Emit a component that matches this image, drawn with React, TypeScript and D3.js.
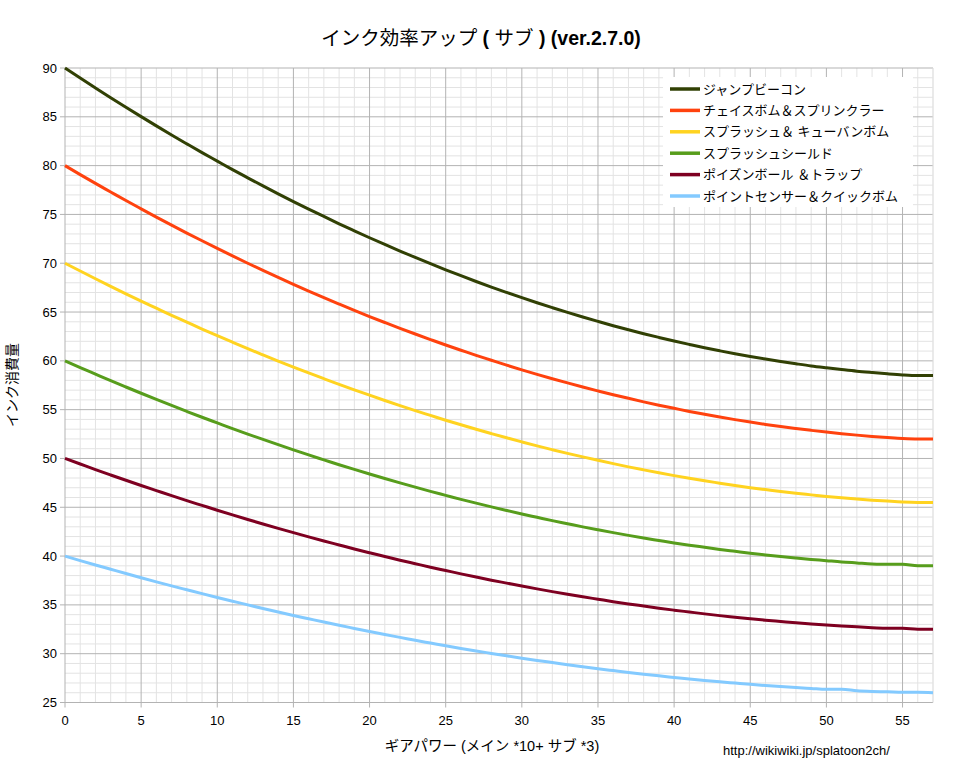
import React from "react";
import * as d3 from "d3";

const gearPower = d3.range(0, 58);

const seriesNames = [
  "ジャンプビーコン",
  "チェイスボム＆スプリンクラー",
  "スプラッシュ＆ キューバンボム",
  "スプラッシュシールド",
  "ポイズンボール ＆トラップ",
  "ポイントセンサー＆クイックボム",
];

const seriesColors = ["#314004", "#ff420e", "#ffd320", "#579d1c", "#7e0021", "#83caff"];

const jumpBeacon = [
  90, 88.97, 87.96, 86.96, 85.98, 85.02, 84.07, 83.14, 82.23, 81.33, 80.46, 79.59, 78.75, 77.92, 77.11,
  76.32, 75.55, 74.79, 74.04, 73.32, 72.61, 71.92, 71.25, 70.59, 69.95, 69.33, 68.72, 68.13, 67.56, 67.01,
  66.47, 65.95, 65.45, 64.96, 64.49, 64.04, 63.6, 63.18, 62.78, 62.4, 62.03, 61.68, 61.34, 61.03, 60.73,
  60.45, 60.18, 59.93, 59.7, 59.48, 59.29, 59.11, 58.94, 58.8, 58.67, 58.56, 58.5, 58.5,
];
const curlingSprinkler = [
  80, 79.08, 78.18, 77.3, 76.42, 75.57, 74.73, 73.9, 73.09, 72.3, 71.52, 70.75, 70.0, 69.27, 68.55,
  67.84, 67.15, 66.48, 65.82, 65.17, 64.54, 63.93, 63.33, 62.75, 62.18, 61.62, 61.09, 60.56, 60.06, 59.56,
  59.08, 58.62, 58.17, 57.74, 57.32, 56.92, 56.53, 56.16, 55.8, 55.46, 55.14, 54.82, 54.53, 54.25, 53.98,
  53.73, 53.49, 53.27, 53.07, 52.88, 52.7, 52.54, 52.39, 52.26, 52.15, 52.05, 52, 52,
];
const splatSuction = [
  70, 69.2, 68.41, 67.63, 66.87, 66.12, 65.39, 64.66, 63.96, 63.26, 62.58, 61.91, 61.25, 60.61, 59.98,
  59.36, 58.76, 58.17, 57.59, 57.03, 56.48, 55.94, 55.41, 54.9, 54.41, 53.92, 53.45, 52.99, 52.55, 52.12,
  51.7, 51.29, 50.9, 50.52, 50.16, 49.81, 49.47, 49.14, 48.83, 48.53, 48.24, 47.97, 47.71, 47.47, 47.23,
  47.01, 46.81, 46.61, 46.43, 46.27, 46.11, 45.97, 45.84, 45.73, 45.63, 45.54, 45.5, 45.5,
];
const splashWall = [
  60, 59.31, 58.64, 57.97, 57.32, 56.68, 56.05, 55.43, 54.82, 54.22, 53.64, 53.06, 52.5, 51.95, 51.41,
  50.88, 50.36, 49.86, 49.36, 48.88, 48.41, 47.95, 47.5, 47.06, 46.63, 46.22, 45.81, 45.42, 45.04, 44.67,
  44.31, 43.97, 43.63, 43.31, 42.99, 42.69, 42.4, 42.12, 41.85, 41.6, 41.35, 41.12, 40.9, 40.68, 40.49,
  40.3, 40.12, 39.95, 39.8, 39.66, 39.53, 39.4, 39.3, 39.2, 39.15, 39.15, 39, 39,
];
const toxicMistMine = [
  50, 49.43, 48.86, 48.31, 47.77, 47.23, 46.71, 46.19, 45.68, 45.19, 44.7, 44.22, 43.75, 43.29, 42.84,
  42.4, 41.97, 41.55, 41.14, 40.73, 40.34, 39.96, 39.58, 39.22, 38.86, 38.52, 38.18, 37.85, 37.53, 37.23,
  36.93, 36.64, 36.36, 36.09, 35.83, 35.58, 35.33, 35.1, 34.88, 34.66, 34.46, 34.27, 34.08, 33.9, 33.74,
  33.58, 33.43, 33.3, 33.17, 33.05, 32.94, 32.84, 32.75, 32.67, 32.6, 32.6, 32.5, 32.5,
];
const pointSensorAutobomb = [
  40, 39.54, 39.09, 38.65, 38.21, 37.78, 37.36, 36.95, 36.55, 36.15, 35.76, 35.38, 35.0, 34.63, 34.27,
  33.92, 33.58, 33.24, 32.91, 32.59, 32.27, 31.96, 31.67, 31.37, 31.09, 30.81, 30.54, 30.28, 30.03, 29.78,
  29.54, 29.31, 29.09, 28.87, 28.66, 28.46, 28.27, 28.08, 27.9, 27.73, 27.57, 27.41, 27.26, 27.12, 26.99,
  26.86, 26.74, 26.63, 26.53, 26.44, 26.35, 26.35, 26.2, 26.13, 26.1, 26.05, 26.05, 26,
];

const seriesValues = [jumpBeacon, curlingSprinkler, splatSuction, splashWall, toxicMistMine, pointSensorAutobomb];

const xTicks = [0, 5, 10, 15, 20, 25, 30, 35, 40, 45, 50, 55];
const yTicks = [25, 30, 35, 40, 45, 50, 55, 60, 65, 70, 75, 80, 85, 90];

// title pieces: [text, bold]
const titleParts: [string, boolean][] = [
  ["インク効率アップ", false],
  [" ( ", true],
  ["サブ", false],
  [" ) (ver.2.7.0)", true],
];
const xTitle = "ギアパワー (メイン *10+ サブ *3)";
const yTitle = "インク消費量";
const sourceText = "http://wikiwiki.jp/splatoon2ch/";

const FONT = "'Liberation Sans', Arial, 'Noto Sans CJK JP', sans-serif";

export default function App() {
  const W = 961;
  const H = 768;
  const left = 65;
  const right = 933;
  const top = 68;
  const bottom = 702.5;

  const x = d3.scaleLinear().domain([0, 57]).range([left, right]);
  const y = d3.scaleLinear().domain([25, 90]).range([bottom, top]);

  const line = d3
    .line<number>()
    .x((_, i) => x(gearPower[i]))
    .y((d) => y(d))
    .curve(d3.curveMonotoneX);

  const minorX = d3.range(0, 58).filter((v) => v % 5 !== 0);
  const minorY = d3.range(25, 91).filter((v) => v % 5 !== 0);

  const legendX = 663;
  const legendY = 77;
  const rowH = 21.4;

  return (
    <svg
      width={W}
      height={H}
      style={{ position: "absolute", left: 0, top: 0, background: "#fff" }}
      fontFamily={FONT}
    >
      <rect x={0} y={0} width={W} height={H} fill="#fff" />
      {minorX.map((v) => (
        <line key={"mx" + v} x1={x(v)} x2={x(v)} y1={top} y2={bottom} stroke="#e3e3e3" strokeWidth={1} />
      ))}
      {minorY.map((v) => (
        <line key={"my" + v} x1={left} x2={right} y1={y(v)} y2={y(v)} stroke="#e3e3e3" strokeWidth={1} />
      ))}
      {xTicks.map((v) => (
        <line key={"gx" + v} x1={x(v)} x2={x(v)} y1={top} y2={bottom + 5} stroke="#b3b3b3" strokeWidth={1} />
      ))}
      {yTicks.map((v) => (
        <line key={"gy" + v} x1={left - 5} x2={right} y1={y(v)} y2={y(v)} stroke="#b3b3b3" strokeWidth={1} />
      ))}
      <line x1={right} x2={right} y1={top} y2={bottom} stroke="#e3e3e3" />

      {yTicks.map((v) => (
        <text key={"yl" + v} x={57} y={y(v)} dy="0.35em" textAnchor="end" fontSize={13} fill="#000">
          {v}
        </text>
      ))}
      {xTicks.map((v) => (
        <text key={"xl" + v} x={x(v)} y={bottom + 22} textAnchor="middle" fontSize={13} fill="#000">
          {v}
        </text>
      ))}

      {seriesValues.map((vals, i) => (
        <path
          key={"s" + i}
          d={line(vals) || ""}
          fill="none"
          stroke={seriesColors[i]}
          strokeWidth={3}
          strokeLinejoin="round"
        />
      ))}

      <rect x={legendX} y={legendY} width={250} height={130} fill="#fff" />
      {seriesNames.map((name, i) => {
        const cy = 89 + i * rowH;
        return (
          <g key={"lg" + i}>
            <line x1={670} x2={700} y1={cy} y2={cy} stroke={seriesColors[i]} strokeWidth={3.5} />
            <text x={703} y={cy} dy="0.35em" fontSize={13} fill="#000">
              {name}
            </text>
          </g>
        );
      })}

      <text x={481} y={45} textAnchor="middle" fontSize={19.5} fill="#000" style={{ whiteSpace: "pre" }}>
        {titleParts.map(([t, b], i) => (
          <tspan key={i} fontWeight={b ? "bold" : "normal"}>
            {t}
          </tspan>
        ))}
      </text>
      <text x={492} y={751} textAnchor="middle" fontSize={14.5} fill="#000">
        {xTitle}
      </text>
      <text transform={`translate(17, 385) rotate(-90)`} textAnchor="middle" fontSize={14} fill="#000">
        {yTitle}
      </text>
      <text x={723} y={755} fontSize={13} fill="#000">
        {sourceText}
      </text>
    </svg>
  );
}
